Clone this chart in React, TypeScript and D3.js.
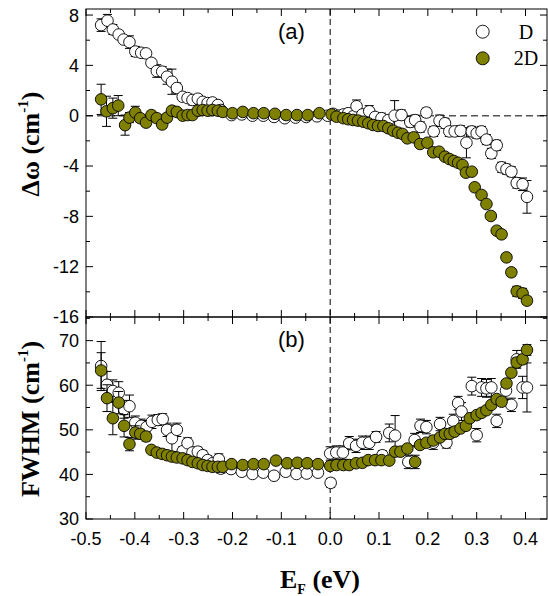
import React, { useEffect, useRef } from 'react'
import * as d3 from 'd3'

const W = 548, H = 596

// [E_F (eV), value, error]
const shiftD: number[][] = [
  [-0.469, 7.2, 0.5], [-0.456, 7.55, 0.5], [-0.445, 6.85, 0.4], [-0.433, 6.45, 0.3],
  [-0.423, 6.05, 0.3], [-0.411, 5.85, 0.5], [-0.399, 5.1, 0.4], [-0.387, 5.0, 0.3],
  [-0.377, 4.95, 0.3], [-0.366, 4.2, 0.3], [-0.355, 3.55, 0.5], [-0.344, 3.5, 0.4],
  [-0.334, 3.1, 0.6], [-0.324, 2.7, 1.0], [-0.314, 2.2, 0.4], [-0.302, 1.5, 0.3],
  [-0.292, 1.4, 0.3], [-0.282, 1.25, 0.4], [-0.271, 1.35, 0.3], [-0.261, 1.1, 0.3],
  [-0.251, 1.0, 0.3], [-0.241, 1.05, 0.3], [-0.230, 0.85, 0.3], [-0.224, 0.45, 0.3],
  [-0.202, 0.05, 0.2], [-0.181, 0.1, 0.2], [-0.159, 0.0, 0.2], [-0.137, 0.0, 0.2],
  [-0.115, -0.1, 0.2], [-0.093, -0.2, 0.2], [-0.071, -0.15, 0.2], [-0.049, -0.1, 0.2],
  [-0.027, -0.05, 0.2], [-0.005, 0.0, 0.2], [0.006, 0.15, 0.3], [0.017, 0.0, 0.3],
  [0.027, 0.1, 0.3], [0.037, 0.2, 0.3], [0.047, -0.05, 0.3], [0.054, 0.75, 0.5],
  [0.066, 0.1, 0.3], [0.080, 0.35, 0.45], [0.092, -0.1, 0.3], [0.105, -0.2, 0.4],
  [0.119, -0.35, 0.3], [0.132, 0.0, 1.2], [0.146, 0.05, 0.4], [0.164, -0.5, 0.4],
  [0.174, -0.35, 0.4], [0.185, -0.9, 0.4], [0.197, 0.25, 0.35], [0.212, -1.25, 0.4],
  [0.224, -0.4, 0.45], [0.235, -0.6, 0.4], [0.244, -1.25, 0.4], [0.255, -1.25, 0.4],
  [0.267, -1.2, 0.4], [0.279, -2.15, 1.2], [0.290, -1.25, 0.4], [0.300, -1.4, 0.4],
  [0.310, -1.25, 0.4], [0.320, -1.9, 0.4], [0.330, -3.0, 0.4], [0.341, -2.35, 0.4],
  [0.351, -4.1, 0.4], [0.361, -4.25, 0.4], [0.371, -4.45, 0.4], [0.382, -5.35, 0.4],
  [0.394, -5.45, 0.5], [0.403, -6.45, 1.3],
]

const shift2D: number[][] = [
  [-0.469, 1.3, 1.2], [-0.458, 0.35, 1.2], [-0.445, 0.6, 0.8], [-0.434, 0.8, 0.8],
  [-0.420, -0.75, 0.8], [-0.411, -0.15, 0.4], [-0.399, 0.25, 0.5], [-0.389, -0.2, 0.3],
  [-0.377, -0.55, 0.3], [-0.366, 0.05, 0.3], [-0.355, -0.2, 0.3], [-0.344, -0.7, 0.3],
  [-0.334, -0.15, 0.3], [-0.324, 0.4, 0.2], [-0.314, 0.3, 0.2], [-0.302, 0.0, 0.2],
  [-0.292, 0.05, 0.2], [-0.282, 0.05, 0.2], [-0.271, 0.4, 0.2], [-0.261, 0.45, 0.2],
  [-0.251, 0.4, 0.2], [-0.241, 0.45, 0.2], [-0.230, 0.4, 0.2], [-0.220, 0.3, 0.2],
  [-0.200, 0.2, 0.2], [-0.179, 0.3, 0.2], [-0.157, 0.2, 0.2], [-0.136, 0.2, 0.2],
  [-0.113, 0.15, 0.2], [-0.090, 0.05, 0.2], [-0.068, 0.05, 0.2], [-0.046, 0.05, 0.2],
  [-0.022, 0.2, 0.2], [0.003, 0.1, 0.3], [0.013, -0.08, 0.2], [0.027, -0.2, 0.2],
  [0.037, -0.28, 0.2], [0.047, -0.34, 0.2], [0.057, -0.39, 0.2], [0.068, -0.48, 0.2],
  [0.078, -0.6, 0.2], [0.088, -0.74, 0.2], [0.098, -0.82, 0.2], [0.109, -0.82, 0.2],
  [0.119, -1.0, 0.2], [0.129, -1.19, 0.2], [0.139, -1.35, 0.2], [0.148, -1.45, 0.2],
  [0.158, -1.8, 0.2], [0.171, -1.72, 0.2], [0.184, -2.25, 0.2], [0.199, -2.15, 0.2],
  [0.211, -2.91, 0.2], [0.223, -2.86, 0.2], [0.235, -3.26, 0.2], [0.244, -3.44, 0.2],
  [0.253, -3.6, 0.2], [0.262, -3.74, 0.2], [0.271, -3.92, 0.2], [0.278, -4.53, 0.25],
  [0.290, -4.45, 0.25], [0.296, -5.69, 0.2], [0.310, -6.3, 0.2], [0.320, -7.02, 0.2],
  [0.329, -7.97, 0.2], [0.341, -9.14, 0.25], [0.351, -9.43, 0.3], [0.361, -11.26, 0.3],
  [0.371, -12.45, 0.3], [0.382, -13.96, 0.4], [0.394, -14.12, 0.4], [0.403, -14.7, 0.3],
]

const fwhmD: number[][] = [
  [-0.469, 64.3, 5.5], [-0.457, 60.1, 3], [-0.445, 58.7, 2.5], [-0.433, 58.3, 2.5],
  [-0.422, 54.6, 2], [-0.411, 55.3, 2.5], [-0.399, 51.6, 1.5], [-0.387, 50.9, 1.5],
  [-0.376, 50.6, 1.5], [-0.365, 51.8, 1.5], [-0.353, 52.2, 1.2], [-0.343, 52.4, 1.2],
  [-0.334, 50.0, 1.5], [-0.324, 48.1, 3], [-0.314, 50.0, 1.5], [-0.302, 45.2, 1],
  [-0.292, 47.0, 1.2], [-0.282, 44.9, 1.2], [-0.271, 45.1, 1], [-0.261, 44.3, 1],
  [-0.251, 43.2, 1], [-0.241, 42.5, 1], [-0.228, 43.4, 1.2], [-0.224, 41.3, 1],
  [-0.203, 41.2, 0.8], [-0.181, 40.6, 0.8], [-0.159, 40.1, 0.8], [-0.137, 40.4, 0.8],
  [-0.115, 39.7, 0.8], [-0.091, 40.6, 0.8], [-0.069, 40.1, 0.8], [-0.048, 40.2, 0.8],
  [-0.025, 40.4, 0.8], [0.001, 38.1, 1], [0.000, 44.7, 1.5], [0.0125, 44.9, 1.5],
  [0.026, 44.9, 1.5], [0.039, 47.0, 1.5], [0.053, 46.4, 1.5], [0.066, 47.1, 1.5],
  [0.080, 47.1, 1.5], [0.094, 48.4, 1.2], [0.107, 44.3, 1], [0.121, 49.3, 2],
  [0.133, 48.7, 4.5], [0.160, 42.8, 1.5], [0.173, 47.7, 1.5], [0.185, 50.9, 1.5],
  [0.197, 50.6, 1.5], [0.211, 47.1, 1.5], [0.225, 51.3, 1.5], [0.238, 47.1, 1.2],
  [0.252, 52.0, 1.5], [0.262, 56.0, 1.5], [0.269, 54.1, 2], [0.290, 59.8, 2],
  [0.300, 48.8, 1.5], [0.310, 59.5, 2], [0.320, 59.3, 2], [0.330, 59.5, 2],
  [0.341, 52.0, 1.5], [0.360, 58.8, 2], [0.371, 55.6, 1.5], [0.382, 65.8, 2],
  [0.394, 59.5, 2.5], [0.403, 59.5, 5.5],
]

const fwhm2D: number[][] = [
  [-0.469, 63.3, 4], [-0.457, 57.1, 3], [-0.445, 52.6, 3.7], [-0.433, 56.1, 2.5],
  [-0.422, 50.9, 2.5], [-0.411, 46.8, 1.5], [-0.399, 49.4, 1.5], [-0.389, 49.1, 1],
  [-0.377, 48.5, 1], [-0.366, 45.5, 0.6], [-0.355, 44.9, 0.5], [-0.344, 44.6, 0.5],
  [-0.334, 44.3, 0.5], [-0.324, 44.0, 0.5], [-0.314, 43.8, 0.5], [-0.302, 43.6, 0.5],
  [-0.292, 43.2, 0.5], [-0.282, 42.8, 0.5], [-0.271, 42.5, 0.5], [-0.261, 42.1, 0.5],
  [-0.251, 41.9, 0.5], [-0.241, 41.7, 0.5], [-0.230, 41.7, 0.5], [-0.220, 41.7, 0.5],
  [-0.202, 42.3, 0.5], [-0.179, 42.1, 0.5], [-0.157, 42.3, 0.5], [-0.136, 42.3, 0.5],
  [-0.111, 43.1, 0.5], [-0.088, 42.5, 0.5], [-0.067, 42.6, 0.5], [-0.047, 42.5, 0.5],
  [-0.025, 42.3, 0.5], [0.000, 41.9, 0.6], [0.013, 42.1, 0.5], [0.027, 42.1, 0.5],
  [0.039, 42.1, 0.5], [0.053, 42.5, 0.5], [0.066, 42.6, 0.5], [0.078, 43.2, 0.5],
  [0.092, 43.2, 0.5], [0.105, 43.2, 0.5], [0.121, 43.1, 0.5], [0.133, 45.1, 0.5],
  [0.144, 45.1, 0.5], [0.158, 45.8, 0.5], [0.174, 42.8, 1.5], [0.184, 46.6, 0.5],
  [0.197, 47.1, 0.5], [0.211, 47.6, 0.5], [0.225, 48.3, 0.5], [0.235, 49.1, 0.5],
  [0.245, 49.1, 0.5], [0.255, 49.6, 0.5], [0.267, 50.3, 0.5], [0.278, 50.9, 0.6],
  [0.286, 52.6, 0.6], [0.300, 53.3, 0.6], [0.310, 53.8, 0.6], [0.320, 54.4, 0.6],
  [0.330, 55.6, 0.6], [0.341, 56.9, 0.6], [0.351, 56.3, 0.6], [0.361, 60.4, 0.8],
  [0.371, 62.8, 0.8], [0.382, 65.1, 1], [0.394, 65.8, 1], [0.403, 67.9, 1.2],
]

const shiftTicks = [-16, -12, -8, -4, 0, 4, 8]
const fwhmTicks = [30, 40, 50, 60, 70]
const legendNames = ['D', '2D']

const OLIVE = '#808000'
const SANS = 'Liberation Sans, Arial, sans-serif'
const SERIF = 'Liberation Serif, Times New Roman, serif'

export default function App() {
  const ref = useRef<SVGSVGElement>(null)

  useEffect(() => {
    const svg = d3.select(ref.current)
    svg.selectAll('*').remove()

    const left = 86, right = 547
    const x = d3.scaleLinear().domain([-0.5, 0.444]).range([left, right])
    const yTop = d3.scaleLinear().domain([-16, 8.48]).range([317, 9])
    const yBot = d3.scaleLinear().domain([30, 75.3]).range([519, 317])
    const fmtX = (v: number) => (Math.abs(v) < 1e-9 ? 0 : v).toFixed(1)

    function panel(y: d3.ScaleLinear<number, number>, labels: number[], minorCount: number, dShown: boolean[], sD: number[][], s2D: number[][], tag: string) {
      const [y0, y1] = y.range()
      const g = svg.append('g')

      // dashed zero lines
      g.append('line')
        .attr('x1', x(0)).attr('x2', x(0)).attr('y1', y1).attr('y2', y0)
        .attr('stroke', '#000').attr('stroke-width', 1).attr('stroke-dasharray', '6,4')
      if (dShown[0]) {
        g.append('line')
          .attr('x1', left).attr('x2', right).attr('y1', y(0)).attr('y2', y(0))
          .attr('stroke', '#555').attr('stroke-width', 1.5).attr('stroke-dasharray', '7,4')
      }

      // frame
      g.append('rect')
        .attr('x', left).attr('y', y1).attr('width', right - left).attr('height', y0 - y1)
        .attr('fill', 'none').attr('stroke', '#000').attr('stroke-width', 1)

      // x ticks (inward at top and bottom)
      const xMinor = x.ticks(20)
      const xMajor = x.ticks(10)
      xMinor.forEach(t => {
        const len = xMajor.some(m => Math.abs(m - t) < 1e-9) ? 7 : 4
        g.append('line').attr('x1', x(t)).attr('x2', x(t)).attr('y1', y0).attr('y2', y0 - len).attr('stroke', '#000')
        g.append('line').attr('x1', x(t)).attr('x2', x(t)).attr('y1', y1).attr('y2', y1 + len).attr('stroke', '#000')
      })

      // y ticks left and right
      y.ticks(minorCount).forEach(t => {
        const len = labels.includes(t) ? 7 : 4
        g.append('line').attr('x1', left).attr('x2', left + len).attr('y1', y(t)).attr('y2', y(t)).attr('stroke', '#000')
        g.append('line').attr('x1', right).attr('x2', right - len).attr('y1', y(t)).attr('y2', y(t)).attr('stroke', '#000')
      })
      g.selectAll('text.ylab').data(labels).enter().append('text')
        .attr('x', left - 7).attr('y', d => y(d)).attr('dy', '0.36em')
        .attr('text-anchor', 'end').attr('font-family', SANS).attr('font-size', 18)
        .text(d => String(d))

      g.append('text').attr('x', 278).attr('y', y1 + 30)
        .attr('font-family', SANS).attr('font-size', 22).text(tag)

      const drawSeries = (data: number[][], fill: string) => {
        const s = g.append('g')
        data.forEach(([e, v, err]) => {
          const cx = x(e)
          s.append('line').attr('x1', cx).attr('x2', cx).attr('y1', y(v - err)).attr('y2', y(v + err))
            .attr('stroke', '#000').attr('stroke-width', 1)
          ;[v - err, v + err].forEach(c => {
            s.append('line').attr('x1', cx - 4.5).attr('x2', cx + 4.5).attr('y1', y(c)).attr('y2', y(c))
              .attr('stroke', '#000').attr('stroke-width', 1)
          })
        })
        s.selectAll('circle').data(data).enter().append('circle')
          .attr('cx', d => x(d[0])).attr('cy', d => y(d[1])).attr('r', 5.8)
          .attr('fill', fill).attr('stroke', '#000').attr('stroke-width', 0.9)
      }
      drawSeries(sD, '#fff')
      drawSeries(s2D, OLIVE)
    }

    panel(yTop, shiftTicks, 12, [true], shiftD, shift2D, '(a)')
    panel(yBot, fwhmTicks, 9, [false], fwhmD, fwhm2D, '(b)')

    // x tick labels
    svg.selectAll('text.xlab').data(x.ticks(10)).enter().append('text')
      .attr('x', d => x(d)).attr('y', 545).attr('text-anchor', 'middle')
      .attr('font-family', SANS).attr('font-size', 18).text(d => fmtX(d))

    // legend
    legendNames.forEach((name, i) => {
      const ly = 31.7 + i * 26.6
      svg.append('circle').attr('cx', 482.7).attr('cy', ly).attr('r', 6.5)
        .attr('fill', i === 0 ? '#fff' : OLIVE).attr('stroke', '#000').attr('stroke-width', 0.9)
      svg.append('text').attr('x', 526).attr('y', ly + 6.8).attr('text-anchor', 'middle')
        .attr('font-family', SERIF).attr('font-size', 20).text(name)
    })

    // axis titles
    const xt = svg.append('text').attr('x', 320).attr('y', 588).attr('text-anchor', 'middle')
      .attr('font-family', SERIF).attr('font-size', 26).attr('font-weight', 'bold')
    xt.append('tspan').text('E')
    xt.append('tspan').attr('font-size', 14).attr('dy', 6).text('F')
    xt.append('tspan').attr('dy', -6).text(' (eV)')

    const yt1 = svg.append('text').attr('transform', 'translate(39,144) rotate(-90)').attr('text-anchor', 'middle')
      .attr('font-family', SERIF).attr('font-size', 26).attr('font-weight', 'bold')
    yt1.append('tspan').text('Δω (cm')
    yt1.append('tspan').attr('font-size', 15).attr('dy', -11).text('-1')
    yt1.append('tspan').attr('dy', 11).text(')')

    const yt2 = svg.append('text').attr('transform', 'translate(39,419) rotate(-90)').attr('text-anchor', 'middle')
      .attr('font-family', SERIF).attr('font-size', 26).attr('font-weight', 'bold')
    yt2.append('tspan').text('FWHM (cm')
    yt2.append('tspan').attr('font-size', 15).attr('dy', -11).text('-1')
    yt2.append('tspan').attr('dy', 11).text(')')
  }, [])

  return <svg ref={ref} width={W} height={H} style={{ position: 'absolute', left: 0, top: 0, background: '#fff' }} />
}
